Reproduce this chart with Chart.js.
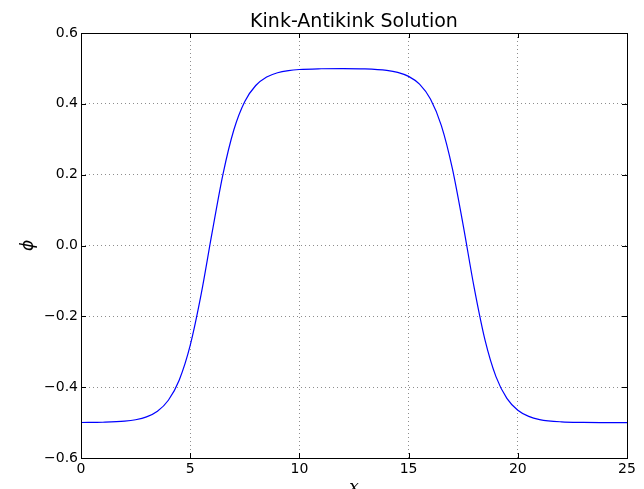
<!DOCTYPE html>
<html>
<head>
<meta charset="utf-8">
<script src="https://cdn.jsdelivr.net/npm/chart.js@4"></script>
<style>
  html, body { margin: 0; padding: 0; background: #fff; }
  #wrap { width: 644px; height: 489px; }
</style>
</head>
<body>
<div id="wrap"><canvas id="kink"></canvas></div>
<script>
// values
const xVals = [0, 1, 2, 2.5, 3, 3.5, 4, 4.5, 5, 5.5, 6, 6.5, 7, 7.5, 8, 8.5, 9, 9.5, 10, 11, 12,
               13, 14, 14.5, 15, 15.5, 16, 16.5, 17, 17.5, 18, 18.5, 19, 19.5, 20, 20.5, 21, 22, 23, 24, 25];
const phiVals = [-0.4998, -0.4990, -0.4961, -0.4921, -0.4840, -0.4680, -0.4370, -0.3795, -0.2821, -0.1383,
                 0.0354, 0.2010, 0.3267, 0.4066, 0.4517, 0.4757, 0.4879, 0.4940, 0.4970, 0.4990, 0.4995,
                 0.4987, 0.4945, 0.4889, 0.4776, 0.4556, 0.4136, 0.3386, 0.2184, 0.0568, -0.1182,
                 -0.2672, -0.3702, -0.4317, -0.4652, -0.4826, -0.4914, -0.4979, -0.4995, -0.4999, -0.5000];
const xTicks = [0, 5, 10, 15, 20, 25];
const yTicks = [-0.6, -0.4, -0.2, 0.0, 0.2, 0.4, 0.6];

const chartTitle = 'Kink-Antikink Solution';
const xLabel = 'x';
const yLabel = 'ϕ';

const points = xVals.map((x, i) => ({ x: x, y: phiVals[i] }));

// box, inward ticks, title and axis labels in matplotlib style
const framePlugin = {
    id: 'frame',
    afterDraw(chart) {
        const { ctx, chartArea: a } = chart;
        const xs = chart.scales.x, ys = chart.scales.y;
        ctx.save();
        ctx.strokeStyle = '#000';
        ctx.lineWidth = 1;
        ctx.strokeRect(a.left + 0.5, a.top + 0.5, a.right - a.left, a.bottom - a.top);

        ctx.beginPath();
        xTicks.forEach(v => {
            const px = Math.round(xs.getPixelForValue(v)) + 0.5;
            ctx.moveTo(px, a.bottom); ctx.lineTo(px, a.bottom - 5);
            ctx.moveTo(px, a.top); ctx.lineTo(px, a.top + 5);
        });
        yTicks.forEach(v => {
            const py = Math.round(ys.getPixelForValue(v)) + 0.5;
            ctx.moveTo(a.left, py); ctx.lineTo(a.left + 5, py);
            ctx.moveTo(a.right, py); ctx.lineTo(a.right - 5, py);
        });
        ctx.stroke();

        ctx.fillStyle = '#000';
        ctx.textAlign = 'center';
        ctx.textBaseline = 'alphabetic';
        ctx.font = '19px "DejaVu Sans"';
        ctx.fillText(chartTitle, (a.left + a.right) / 2, 27);

        ctx.font = 'italic 17px "DejaVu Serif"';
        ctx.fillText(xLabel, (a.left + a.right) / 2, 492);

        ctx.translate(29, (a.top + a.bottom) / 2);
        ctx.rotate(-Math.PI / 2);
        ctx.textBaseline = 'middle';
        ctx.font = 'italic 17px "DejaVu Sans"';
        ctx.fillText(yLabel, 0, 0);
        ctx.restore();
    }
};

const ctx = document.getElementById('kink').getContext('2d');
new Chart(ctx, {
    type: 'scatter',
    data: {
        datasets: [{
            data: points,
            showLine: true,
            borderColor: '#0000ff',
            borderWidth: 1.2,
            pointRadius: 0,
            cubicInterpolationMode: 'monotone',
            fill: false
        }]
    },
    options: {
        responsive: true,
        maintainAspectRatio: false,
        animation: false,
        layout: { padding: { top: 33, right: 17, left: 0, bottom: 0 } },
        plugins: {
            legend: { display: false },
            tooltip: { enabled: false }
        },
        scales: {
            x: {
                type: 'linear',
                min: 0,
                max: 25,
                afterBuildTicks: s => { s.ticks = xTicks.map(v => ({ value: v })); },
                afterFit: s => { s.height = 31; },
                grid: {
                    color: 'rgba(0,0,0,0.75)',
                    lineWidth: 0.6,
                    drawTicks: false
                },
                border: { display: false, dash: [1, 3] },
                ticks: {
                    color: '#000',
                    font: { family: 'DejaVu Sans', size: 14 },
                    padding: 3,
                    maxRotation: 0,
                    callback: v => String(v)
                }
            },
            y: {
                min: -0.6,
                max: 0.6,
                afterBuildTicks: s => { s.ticks = yTicks.map(v => ({ value: v })); },
                afterFit: s => { s.width = 81; },
                grid: {
                    color: 'rgba(0,0,0,0.75)',
                    lineWidth: 0.6,
                    drawTicks: false
                },
                border: { display: false, dash: [1, 3] },
                ticks: {
                    color: '#000',
                    font: { family: 'DejaVu Sans', size: 14 },
                    padding: 3,
                    callback: v => v.toFixed(1).replace('-', '\u2212')
                }
            }
        }
    },
    plugins: [framePlugin]
});
</script>
</body>
</html>
